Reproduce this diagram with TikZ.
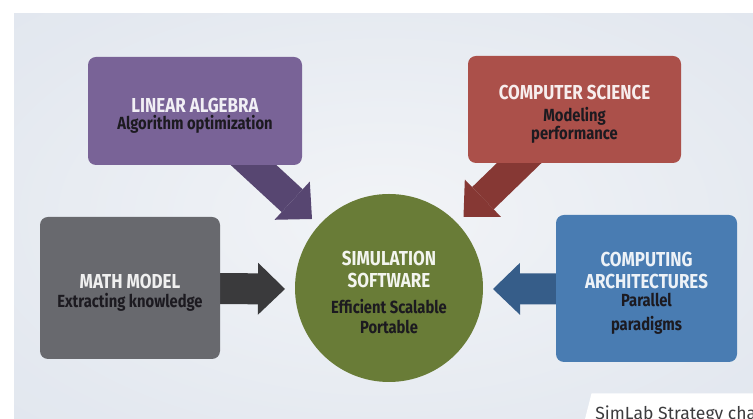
\documentclass[tikz,border=0pt]{standalone}
\usepackage{fontspec}
\setmainfont{Fira Sans}
\newfontfamily\diafont{Fira Sans}[FakeStretch=0.84]
\usetikzlibrary{arrows.meta}

\pgfdeclarelayer{background}
\pgfsetlayers{background,main}

\definecolor{panelout}{RGB}{216,223,234}
\definecolor{panelin}{RGB}{242,244,247}
\definecolor{lacol}{RGB}{121,99,151}
\definecolor{laarrow}{RGB}{87,70,113}
\definecolor{cscol}{RGB}{171,80,74}
\definecolor{csarrow}{RGB}{134,56,52}
\definecolor{mmcol}{RGB}{104,105,110}
\definecolor{mmarrow}{RGB}{58,58,60}
\definecolor{cacol}{RGB}{73,124,178}
\definecolor{caarrow}{RGB}{54,93,137}
\definecolor{simcol}{RGB}{105,124,55}
\definecolor{subtext}{RGB}{28,26,32}
\definecolor{notegrey}{RGB}{60,60,62}

\pgfdeclareradialshading{panelglow}{\pgfpoint{0bp}{0bp}}{color(0bp)=(panelin); color(30bp)=(panelin!45!panelout); color(70bp)=(panelout)}

% title lines, subtitle lines, and a strut that lowers the text block a little
\newcommand{\ttl}[1]{{\bfseries\fontsize{11.5}{12}\selectfont #1}}
\newcommand{\sbt}[1]{{\color{subtext}\bfseries\fontsize{10}{12}\selectfont #1}}
\newcommand{\dropstrut}{\rule{0pt}{13.5pt}}

\begin{document}
\begin{tikzpicture}[
    box/.style={rounded corners=0.16cm, inner sep=2pt, align=center, font=\diafont\fontsize{10}{12}\selectfont},
    fat/.style={line width=0.62cm, -{Triangle[length=0.54cm, width=1.04cm, line width=0pt]}}
  ]
  \useasboundingbox (0,0) rectangle (15.06,8.38);
  \clip (0,0) rectangle (15.06,8.38);

  % Panel
  \begin{pgfonlayer}{background}
    \fill[white] (0,0) rectangle (15.06,8.38);
    \shade[shading=panelglow] (0.28,0) rectangle (15.06,8.10);
  \end{pgfonlayer}

  % Boxes
  \node[box, fill=lacol, text=white!90!lacol, minimum width=4.28cm, minimum height=2.16cm] (linalg) at (3.90,6.16)
    {\dropstrut\ttl{LINEAR ALGEBRA}\\[-2.3pt] \sbt{Algorithm optimization}};
  \node[box, fill=cscol, text=white!90!cscol, minimum width=4.26cm, minimum height=2.14cm] (compsci) at (11.49,6.19)
    {\dropstrut\ttl{COMPUTER SCIENCE}\\[0.5pt] \sbt{Modeling}\\[-2pt] \sbt{performance}};
  \node[box, fill=mmcol, text=white!90!mmcol, minimum width=3.60cm, minimum height=2.84cm] (mathmod) at (2.60,2.62)
    {\dropstrut\ttl{MATH MODEL}\\[-1.2pt] \sbt{Extracting knowledge}};
  \node[box, fill=cacol, text=white!90!cacol, minimum width=3.62cm, minimum height=2.94cm] (comparch) at (12.93,2.61)
    {\dropstrut\ttl{COMPUTING}\\[0.5pt] \ttl{ARCHITECTURES}\\[-1.8pt] \sbt{Parallel}\\[2pt] \sbt{paradigms}};
  \node[box, circle, fill=simcol, text=white!92!simcol, minimum size=3.76cm] (simsw) at (7.78,2.62)
    {\dropstrut\ttl{SIMULATION}\\[0.5pt] \ttl{SOFTWARE}\\[2.8pt] \sbt{Efficient Scalable}\\[-0.8pt] \sbt{Portable}};

  % Arrow tips
  \coordinate (latip) at (6.24,4.00);
  \coordinate (cstip) at (9.27,4.04);
  \coordinate (mmtip) at (5.70,2.60);
  \coordinate (catip) at (9.86,2.60);

  % Arrows (behind the boxes)
  \begin{pgfonlayer}{background}
    \draw[fat, laarrow] (linalg.center) -- (latip);
    \draw[fat, csarrow] (compsci.center) -- (cstip);
    \draw[fat, mmarrow] (mathmod.center) -- (mmtip);
    \draw[fat, caarrow] (comparch.center) -- (catip);
  \end{pgfonlayer}

  % Caption tab
  \fill[white] (11.70,0) -- (11.83,0.51) -- (15.06,0.51) -- (15.06,0) -- cycle;
  \node[anchor=base west, inner sep=0, text=notegrey, font=\fontsize{10}{12}\selectfont] (credit) at (11.90,-0.02) {SimLab Strategy char};
\end{tikzpicture}
\end{document}
